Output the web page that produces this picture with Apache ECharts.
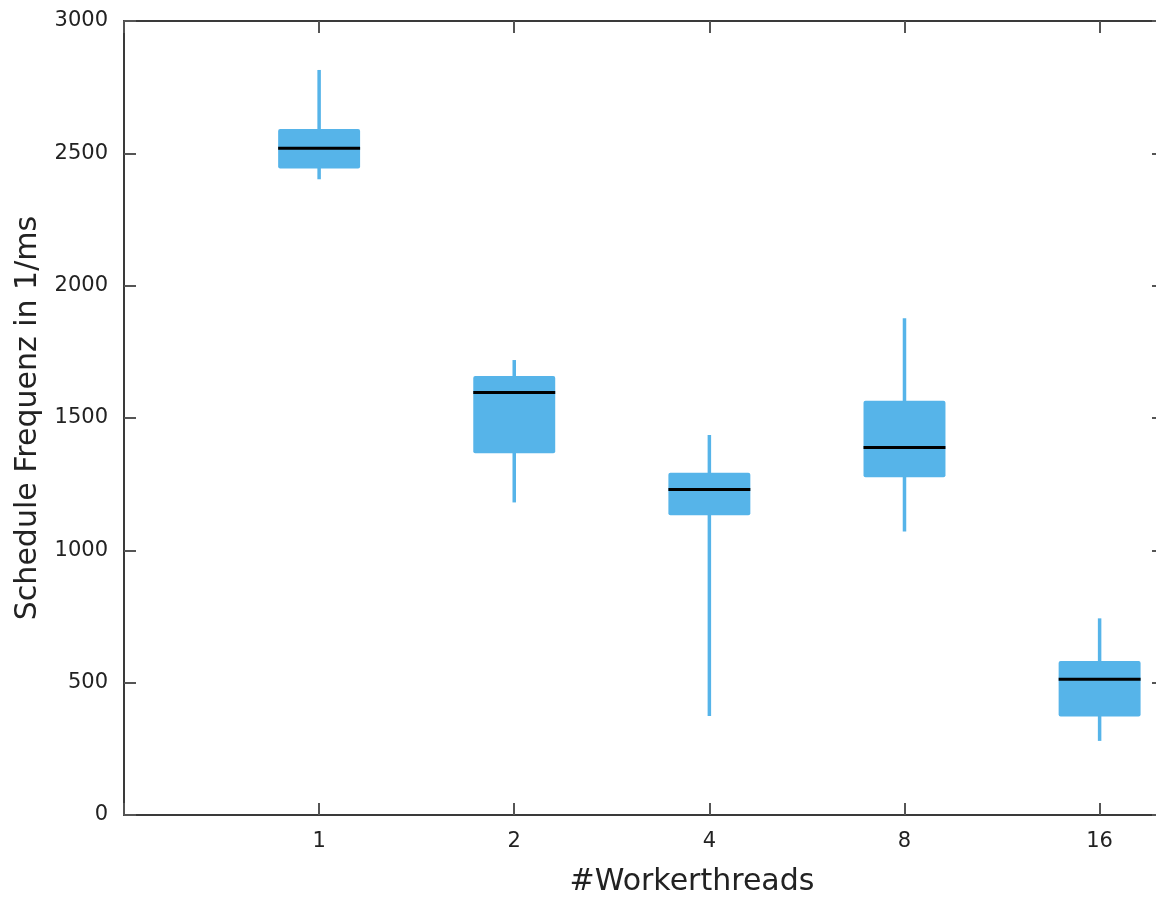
<!DOCTYPE html>
<html>
<head>
<meta charset="utf-8">
<script src="https://cdn.jsdelivr.net/npm/echarts@6/dist/echarts.min.js"></script>
<style>
html,body{margin:0;padding:0;background:#fff;}
#chart{width:1156px;height:898px;}
</style>
</head>
<body>
<div id="chart"></div>
<script>
// Data
const categories = ['1', '2', '4', '8', '16'];
const whiskerLow  = [2402, 1181, 374, 1071, 280];
const q1          = [2443, 1367, 1133, 1276, 372];
const median      = [2519, 1596, 1230, 1389, 513];
const q3          = [2592, 1659, 1293, 1565, 582];
const whiskerHigh = [2815, 1719, 1436, 1877, 743];
const yTicks = [0, 500, 1000, 1500, 2000, 2500, 3000];

const boxData = categories.map((c, i) => [i, whiskerLow[i], q1[i], median[i], q3[i], whiskerHigh[i]]);

const chart = echarts.init(document.getElementById('chart'), null, {renderer: 'canvas'});
const axisLineStyle = {color: '#3a3a3a', width: 2};
const tickStyle = {color: '#555', width: 2};
const fontFamily = 'DejaVu Sans';

function xLabel(v) {
  const i = Math.round(v);
  return (Math.abs(v - i) < 1e-6 && i >= 0 && i < categories.length) ? categories[i] : '';
}

const option = {
  animation: false,
  backgroundColor: '#fff',
  textStyle: {fontFamily: fontFamily},
  grid: {left: 124, width: 1040, top: 21, height: 794, outerBoundsMode: 'none', containLabel: false},
  xAxis: [
    {
      type: 'value', position: 'bottom', min: -1, max: 4.33, interval: 1,
      axisLine: {show: true, onZero: false, lineStyle: axisLineStyle},
      axisTick: {show: true, inside: true, length: 12, lineStyle: tickStyle},
      axisLabel: {formatter: xLabel, fontSize: 21, color: '#222', margin: 16, fontFamily: fontFamily, showMaxLabel: false},
      splitLine: {show: false}
    },
    {
      type: 'value', position: 'top', min: -1, max: 4.33, interval: 1,
      axisLine: {show: true, onZero: false, lineStyle: axisLineStyle},
      axisTick: {show: true, inside: true, length: 12, lineStyle: tickStyle},
      axisLabel: {show: false},
      splitLine: {show: false}
    }
  ],
  yAxis: [
    {
      type: 'value', position: 'left', min: yTicks[0], max: yTicks[yTicks.length - 1], interval: 500,
      name: 'Schedule Frequenz in 1/ms', nameLocation: 'middle', nameRotate: 90, nameGap: 80,
      nameTextStyle: {fontSize: 30, color: '#222', fontFamily: fontFamily},
      axisLine: {show: true, onZero: false, lineStyle: axisLineStyle},
      axisTick: {show: true, inside: true, length: 12, lineStyle: tickStyle},
      axisLabel: {fontSize: 21, color: '#222', margin: 16, fontFamily: fontFamily, formatter: v => String(v)},
      splitLine: {show: false}
    },
    {
      type: 'value', position: 'right', min: yTicks[0], max: yTicks[yTicks.length - 1], interval: 500,
      axisLine: {show: true, onZero: false, lineStyle: axisLineStyle},
      axisTick: {show: true, inside: true, length: 12, lineStyle: tickStyle},
      axisLabel: {show: false},
      splitLine: {show: false}
    }
  ],
  graphic: [
    {
      type: 'text', x: 692, y: 882,
      style: {text: '#Workerthreads', fontSize: 30, fill: '#222', fontFamily: fontFamily,
              textAlign: 'center', textVerticalAlign: 'middle'}
    }
  ],
  series: [
    {
      type: 'custom',
      xAxisIndex: 0, yAxisIndex: 0,
      data: boxData,
      renderItem: function (params, api) {
        const idx = api.value(0);
        const pLow = api.coord([idx, api.value(1)]);
        const pQ1 = api.coord([idx, api.value(2)]);
        const pMed = api.coord([idx, api.value(3)]);
        const pQ3 = api.coord([idx, api.value(4)]);
        const pHigh = api.coord([idx, api.value(5)]);
        const w = api.size([0.42, 0])[0];
        const color = '#56B4E9';
        return {
          type: 'group',
          children: [
            {type: 'line', shape: {x1: pLow[0], y1: pLow[1], x2: pHigh[0], y2: pHigh[1]},
             style: {stroke: color, lineWidth: 3.5, lineCap: 'butt'}},
            {type: 'rect', shape: {x: pQ1[0] - w / 2, y: pQ3[1], width: w, height: pQ1[1] - pQ3[1], r: 2},
             style: {fill: color}},
            {type: 'line', shape: {x1: pMed[0] - w / 2, y1: pMed[1], x2: pMed[0] + w / 2, y2: pMed[1]},
             style: {stroke: '#000', lineWidth: 3}}
          ]
        };
      }
    }
  ]
};
chart.setOption(option);
</script>
</body>
</html>
